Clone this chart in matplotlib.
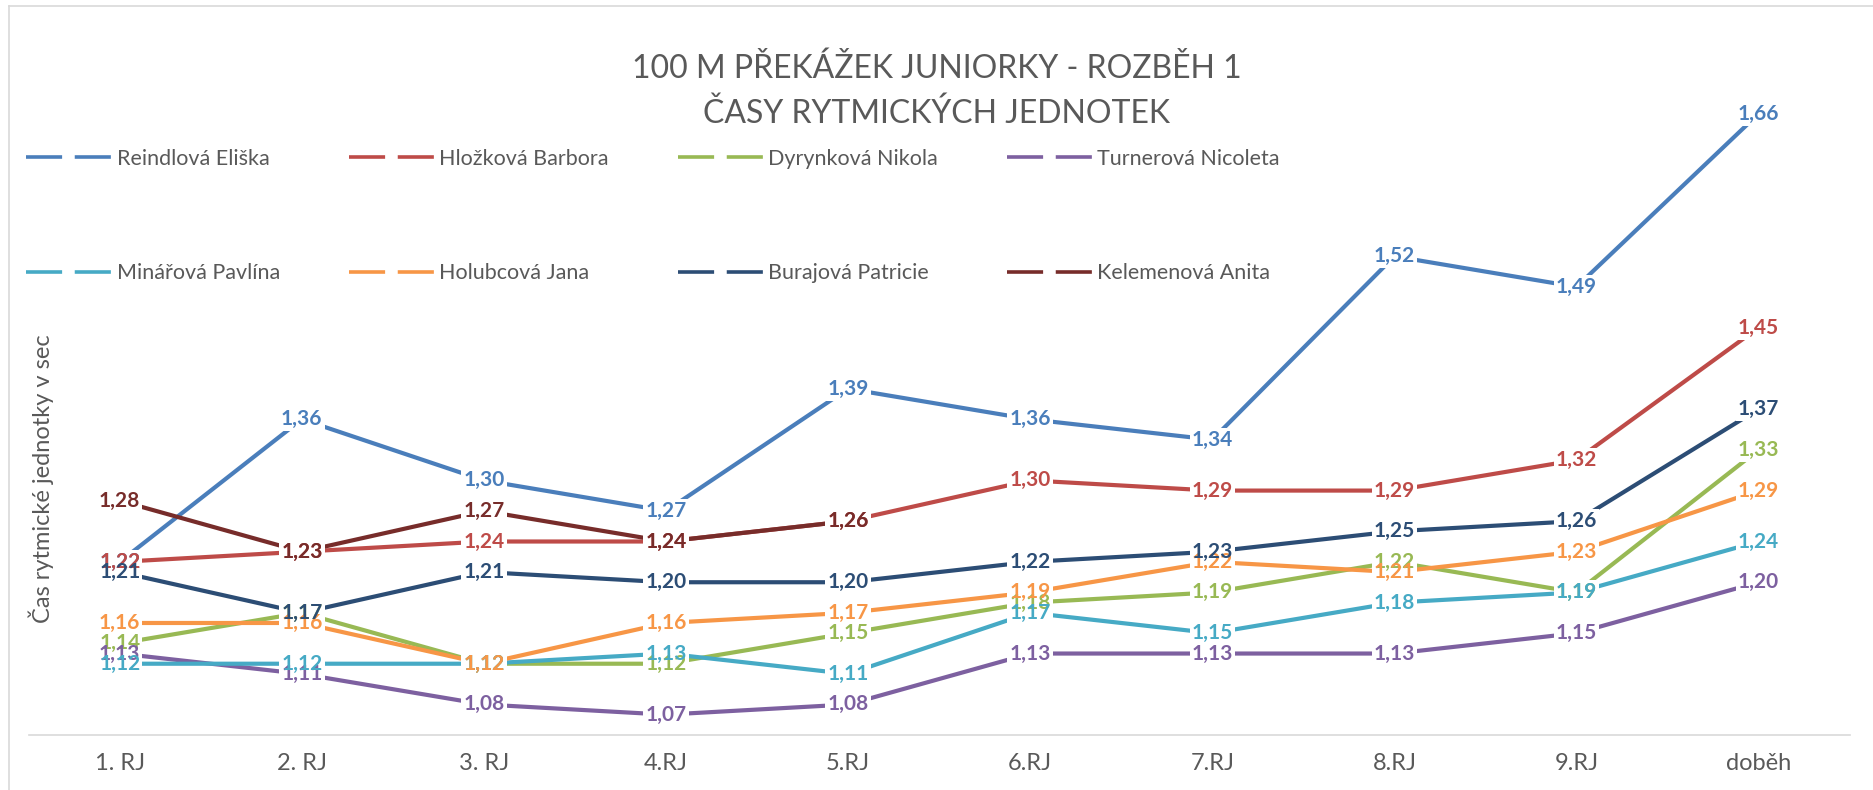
import matplotlib.pyplot as plt
from matplotlib.lines import Line2D

plt.rcParams['font.family'] = ['Lato', 'DejaVu Sans']

categories = ["1. RJ", "2. RJ", "3. RJ", "4.RJ", "5.RJ", "6.RJ", "7.RJ", "8.RJ", "9.RJ", "doběh"]

reindlova = [1.22, 1.36, 1.30, 1.27, 1.39, 1.36, 1.34, 1.52, 1.49, 1.66]
hlozkova = [1.22, 1.23, 1.24, 1.24, 1.26, 1.30, 1.29, 1.29, 1.32, 1.45]
dyrynkova = [1.14, 1.17, 1.12, 1.12, 1.15, 1.18, 1.19, 1.22, 1.19, 1.33]
turnerova = [1.13, 1.11, 1.08, 1.07, 1.08, 1.13, 1.13, 1.13, 1.15, 1.20]
minarova = [1.12, 1.12, 1.12, 1.13, 1.11, 1.17, 1.15, 1.18, 1.19, 1.24]
holubcova = [1.16, 1.16, 1.12, 1.16, 1.17, 1.19, 1.22, 1.21, 1.23, 1.29]
burajova = [1.21, 1.17, 1.21, 1.20, 1.20, 1.22, 1.23, 1.25, 1.26, 1.37]
kelemenova = [1.28, 1.23, 1.27, 1.24, 1.26]

series = [
    ("Reindlová Eliška", reindlova, "#4A7EBB"),
    ("Hložková Barbora", hlozkova, "#BE4B48"),
    ("Dyrynková Nikola", dyrynkova, "#98B954"),
    ("Turnerová Nicoleta", turnerova, "#7D60A0"),
    ("Minářová Pavlína", minarova, "#46AAC5"),
    ("Holubcová Jana", holubcova, "#F79646"),
    ("Burajová Patricie", burajova, "#2C4D75"),
    ("Kelemenová Anita", kelemenova, "#772C2A"),
]

grey = "#595959"

fig = plt.figure(figsize=(18.74, 7.90), dpi=100)
ax = fig.add_axes([0.0153, 0.0696, 0.9717, 0.838])

x = list(range(len(categories)))
for name, vals, col in series:
    ax.plot(x[:len(vals)], vals, color=col, lw=3.0, solid_capstyle='butt', zorder=2)

# white knock-outs behind the labels, then the coloured labels on top
for name, vals, col in series:
    for xi, v in zip(x, vals):
        ax.text(xi, v, f"{v:.2f}".replace(".", ","), ha='center', va='center',
                fontsize=15, fontweight='bold', color='white', zorder=3,
                bbox=dict(facecolor='white', edgecolor='none', pad=1.5))
for name, vals, col in series:
    for xi, v in zip(x, vals):
        ax.text(xi, v, f"{v:.2f}".replace(".", ","), ha='center', va='center',
                fontsize=15, fontweight='bold', color=col, zorder=4)

ax.set_xlim(-0.5, len(categories) - 0.5)
ax.set_ylim(1.05, 1.70)
ax.set_xticks(x)
ax.set_xticklabels(categories, fontsize=17, color=grey)
ax.set_yticks([])
ax.tick_params(axis='x', length=0, pad=13)
for s in ['top', 'right', 'left']:
    ax.spines[s].set_visible(False)
ax.spines['bottom'].set_color('#D9D9D9')
ax.spines['bottom'].set_linewidth(1.2)

fig.text(0.022, 0.394, "Čas rytmické jednotky v sec", rotation=90,
         ha='center', va='center', fontsize=17, color=grey)

fig.text(0.5, 0.913, "100 M PŘEKÁŽEK JUNIORKY - ROZBĚH 1", ha='center', va='center',
         fontsize=23, color=grey)
fig.text(0.5, 0.856, "ČASY RYTMICKÝCH JEDNOTEK", ha='center', va='center',
         fontsize=23, color=grey)

handles = [Line2D([], [], color=col, lw=2.6, linestyle=(0, (10, 3.5))) for _, _, col in series]
labels = [name for name, _, _ in series]
order = [0, 4, 1, 5, 2, 6, 3, 7]
fig.legend([handles[i] for i in order], [labels[i] for i in order],
           loc='upper left', bbox_to_anchor=(0.0140, 0.812), ncol=4,
           frameon=False, fontsize=15.5, labelcolor=grey,
           handlelength=3.95, handletextpad=0.25, columnspacing=3.2,
           labelspacing=4.4, borderpad=0, borderaxespad=0)

# chart border
fig.add_artist(Line2D([0.005, 1.0], [0.992, 0.992], color='#D9D9D9', lw=1.2, transform=fig.transFigure))
fig.add_artist(Line2D([0.005, 0.005], [0.0, 0.992], color='#D9D9D9', lw=1.2, transform=fig.transFigure))

fig.savefig("out.png", dpi=100)
